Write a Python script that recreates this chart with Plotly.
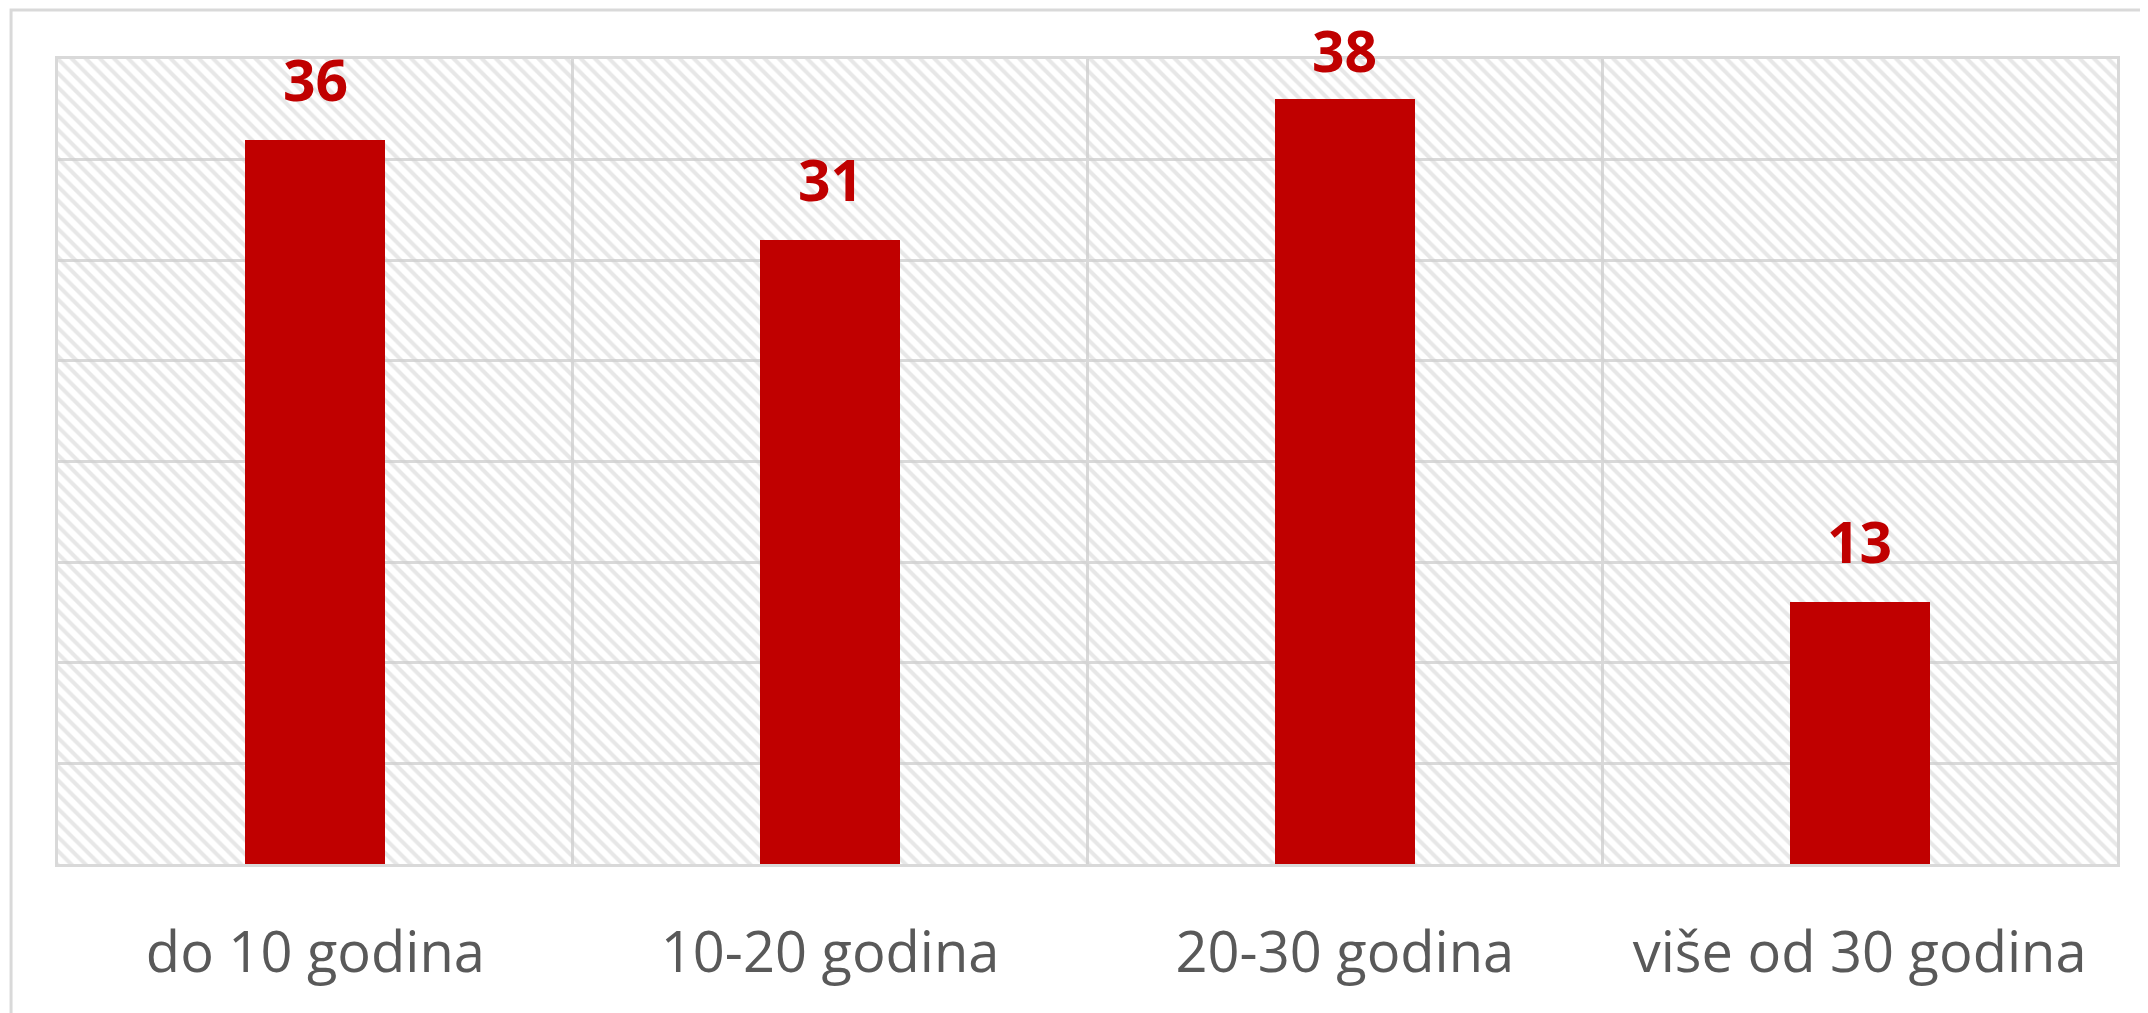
import plotly.graph_objects as go

# data
categories = ["do 10 godina", "10-20 godina", "20-30 godina", "više od 30 godina"]
values = [36, 31, 38, 13]
y_max = 40
y_step = 5
label_ceiling = 37.4  # labels near the top are held down like in the original

bar_color = "#c00000"
grid_color = "#d9d9d9"

fig = go.Figure()

# hatched plot background (drawn as a full-height bar under the data)
fig.add_trace(go.Bar(
    x=categories,
    y=[y_max] * len(categories),
    width=1,
    marker=dict(
        color="rgba(0,0,0,0)",
        line_width=0,
        pattern=dict(shape="\\", fgcolor="#cfcfcf", bgcolor="rgba(0,0,0,0)",
                     size=10, solidity=0.4),
    ),
    hoverinfo="skip",
    showlegend=False,
))

fig.add_trace(go.Bar(
    x=categories,
    y=values,
    width=0.272,
    marker=dict(color=bar_color, line_width=0),
    showlegend=False,
))

# value labels above bars
for c, v in zip(categories, values):
    fig.add_annotation(
        x=c, y=min(v, label_ceiling), text="<b>{}</b>".format(v),
        showarrow=False, yanchor="bottom", yshift=20,
        font=dict(family="Open Sans", size=57, color=bar_color),
    )

# outer chart frame
fig.add_shape(type="rect", xref="paper", yref="paper",
              x0=-0.0228, x1=1.2, y0=-0.5, y1=1.061,
              line=dict(color=grid_color, width=3), layer="below")

fig.update_layout(
    width=2140, height=1005,
    margin=dict(l=50, r=31, t=51, b=149),
    paper_bgcolor="white",
    plot_bgcolor="white",
    barmode="overlay",
    bargap=0,
    font=dict(family="Open Sans", color="#595959"),
)
fig.update_xaxes(
    tickson="boundaries",
    showgrid=True, gridcolor=grid_color, gridwidth=3,
    showline=True, linecolor=grid_color, linewidth=3, mirror=True,
    ticks="", ticklabelstandoff=38,
    tickfont=dict(family="Open Sans", size=56, color="#595959"),
)
fig.update_yaxes(
    range=[0, y_max], dtick=y_step,
    showgrid=True, gridcolor=grid_color, gridwidth=3,
    showline=True, linecolor=grid_color, linewidth=3, mirror=True,
    showticklabels=False, zeroline=False,
)

fig.write_html("out.html")
